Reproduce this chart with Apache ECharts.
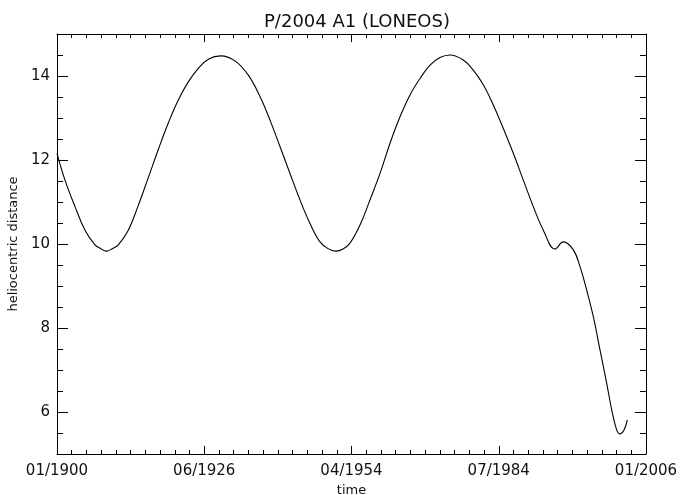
<!DOCTYPE html>
<html>
<head>
<meta charset="utf-8">
<script src="https://cdn.jsdelivr.net/npm/echarts@6/dist/echarts.min.js"></script>
<style>html,body{margin:0;padding:0;background:#fff;}#c{width:682px;height:495px;}</style>
</head>
<body>
<div id="c"></div>
<script>
// years since 01/1900
const years = [0, 1.44, 3.24, 5.04, 6.84, 7.74, 8.94, 10.08, 11.03, 12.83, 14.63, 16.43, 18.23, 20.03, 21.83, 23.63, 25.43, 27.23, 29.46, 32.03, 34.43, 36.53, 38.33, 40.13, 41.93, 43.73, 45.53, 47.33, 48.77, 50.16, 51.47, 52.73, 54.53, 56.33, 58.13, 59.93, 61.73, 63.53, 65.33, 67.13, 68.93, 70.73, 73.12, 74.92, 76.72, 78.52, 80.32, 82.12, 83.92, 85.72, 87.52, 89.62, 91.12, 92.92, 94.13, 95.33, 96.52, 97.72, 98.93, 99.83, 100.73, 101.33, 102.05, 102.64];
const distance = [12.16, 11.52, 10.89, 10.33, 9.98, 9.90, 9.83, 9.90, 9.98, 10.33, 10.92, 11.58, 12.25, 12.88, 13.43, 13.86, 14.18, 14.40, 14.48, 14.36, 14.02, 13.51, 12.95, 12.32, 11.68, 11.05, 10.49, 10.05, 9.89, 9.83, 9.88, 10.02, 10.45, 11.05, 11.68, 12.40, 13.03, 13.55, 13.94, 14.26, 14.44, 14.50, 14.38, 14.14, 13.79, 13.31, 12.75, 12.16, 11.52, 10.89, 10.33, 9.88, 10.05, 9.86, 9.46, 8.90, 8.27, 7.48, 6.68, 6.05, 5.57, 5.48, 5.57, 5.81];
const xTickLabels = ['01/1900', '06/1926', '04/1954', '07/1984', '01/2006'];
const yTickValues = [6, 8, 10, 12, 14];

const FONT = 'DejaVu Sans';
const TXT = '#111';
const chart = echarts.init(document.getElementById('c'), null, {renderer: 'canvas'});

const lineStyle = {color: '#000', width: 1};
function xAx(pos, showLabel) {
  return {
    type: 'value', position: pos, min: 0, max: 106, interval: 26.5,
    name: showLabel ? 'time' : '', nameLocation: 'middle', nameGap: 26,
    nameTextStyle: {fontFamily: FONT, fontSize: 13, color: TXT},
    axisLine: {show: true, onZero: false, lineStyle: lineStyle},
    axisTick: {show: true, inside: true, length: 8, lineStyle: lineStyle},
    minorTick: {show: true, splitNumber: 10, length: 4, lineStyle: lineStyle},
    splitLine: {show: false},
    axisLabel: {show: showLabel, margin: 10, fontFamily: FONT, fontSize: 15, color: TXT,
      formatter: v => xTickLabels[Math.round(v / 26.5)]}
  };
}
function yMajor(pos, showLabel) {
  return {
    type: 'value', position: pos, min: 5, max: 15, interval: 0.5,
    name: showLabel ? 'heliocentric distance' : '', nameLocation: 'middle', nameGap: 33,
    nameTextStyle: {fontFamily: FONT, fontSize: 13, color: TXT},
    axisLine: {show: true, onZero: false, lineStyle: lineStyle},
    axisTick: {show: true, inside: true, length: 11, customValues: yTickValues, lineStyle: lineStyle},
    splitLine: {show: false},
    axisLabel: {show: showLabel, margin: 7, fontFamily: FONT, fontSize: 15, color: TXT,
      customValues: yTickValues, formatter: v => String(v)}
  };
}
function yMinor(pos) {
  return {
    type: 'value', position: pos, min: 5, max: 15, interval: 0.5,
    axisLine: {show: false, onZero: false},
    axisTick: {show: true, inside: true, length: 6, lineStyle: lineStyle},
    splitLine: {show: false},
    axisLabel: {show: false}
  };
}

chart.setOption({
  animation: false,
  backgroundColor: '#fff',
  title: {
    text: 'P/2004 A1 (LONEOS)', left: 352, top: 8, textAlign: 'center',
    textStyle: {fontFamily: FONT, fontSize: 18, fontWeight: 'normal', color: TXT}
  },
  grid: {left: 57, right: 36, top: 34, bottom: 41, containLabel: false, outerBoundsMode: 'none'},
  xAxis: [xAx('bottom', true), xAx('top', false)],
  yAxis: [yMajor('left', true), yMinor('left'), yMajor('right', false), yMinor('right')],
  series: [{
    type: 'line',
    xAxisIndex: 0, yAxisIndex: 0,
    data: years.map((t, i) => [t, distance[i]]),
    showSymbol: false,
    smooth: 0.4,
    lineStyle: {color: '#000', width: 1.1},
    clip: true
  }]
});
</script>
</body>
</html>
